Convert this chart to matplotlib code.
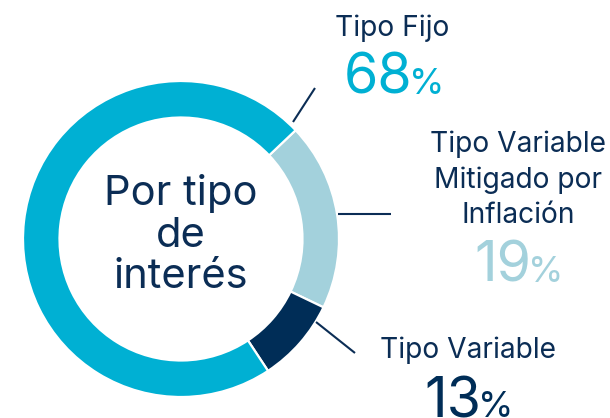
import matplotlib.pyplot as plt

plt.rcParams['font.family'] = ['Inter', 'DejaVu Sans']

# ── DATOS ────────────────────────────────────────────────────
categorias = ["Tipo Fijo", "Tipo Variable\nMitigado por\nInflación", "Tipo Variable"]
pct_label  = [68, 19, 13]          # porcentaje rotulado
arco       = [72.2, 19.2, 8.6]     # tamaño del arco tal como está dibujado
colores    = ["#00B0D3", "#A3D1DC", "#002D57"]
NAVY       = "#0B2D55"

W, H = 610, 418
fig = plt.figure(figsize=(W / 100, H / 100), dpi=100)
ax = fig.add_axes([0, 0, 1, 1])

def yy(y):
    return H - y

# orden horario desde la frontera Fijo / Mitigado
orden = [1, 2, 0]
ax.pie([arco[i] for i in orden], colors=[colores[i] for i in orden],
       startangle=43.5, counterclock=False, center=(181, yy(239)), radius=158,
       wedgeprops=dict(width=36.5, edgecolor="white", linewidth=1.6),
       frame=True)
ax.set_xlim(0, W)
ax.set_ylim(0, H)
ax.axis("off")

# texto central
for txt, yb in [("Por tipo", 205), ("de", 247), ("interés", 288)]:
    ax.text(181, yy(yb), txt, ha="center", va="baseline", fontsize=30, color=NAVY)

# líneas guía
guias = [((293, 122), (315, 88)), ((338, 214), (391, 214)), ((316, 322), (355, 353))]
for (x0, y0), (x1, y1) in guias:
    ax.plot([x0, x1], [yy(y0), yy(y1)], color=NAVY, lw=1.5, solid_capstyle="butt")

# etiquetas: (x centro nombre, baselines del nombre, x fin de cifras, baseline del %)
pos = [(392, [36], 412, 94), (518, [152, 188, 223], 531, 282), (468, [358], 481, 417)]
fig.canvas.draw()
r = fig.canvas.get_renderer()
for i, (xc, bases, xd, yp) in enumerate(pos):
    for linea, yb in zip(categorias[i].split("\n"), bases):
        ax.text(xc, yy(yb), linea, ha="center", va="baseline", fontsize=20.3, color=NAVY)
    c = colores[i]
    ax.text(xd, yy(yp), f"{pct_label[i]}", ha="right", va="baseline",
            fontsize=40, color=c)
    ax.text(xd - 3, yy(yp), "%", ha="left", va="baseline", fontsize=26, color=c)

fig.savefig("out.png", dpi=100)
